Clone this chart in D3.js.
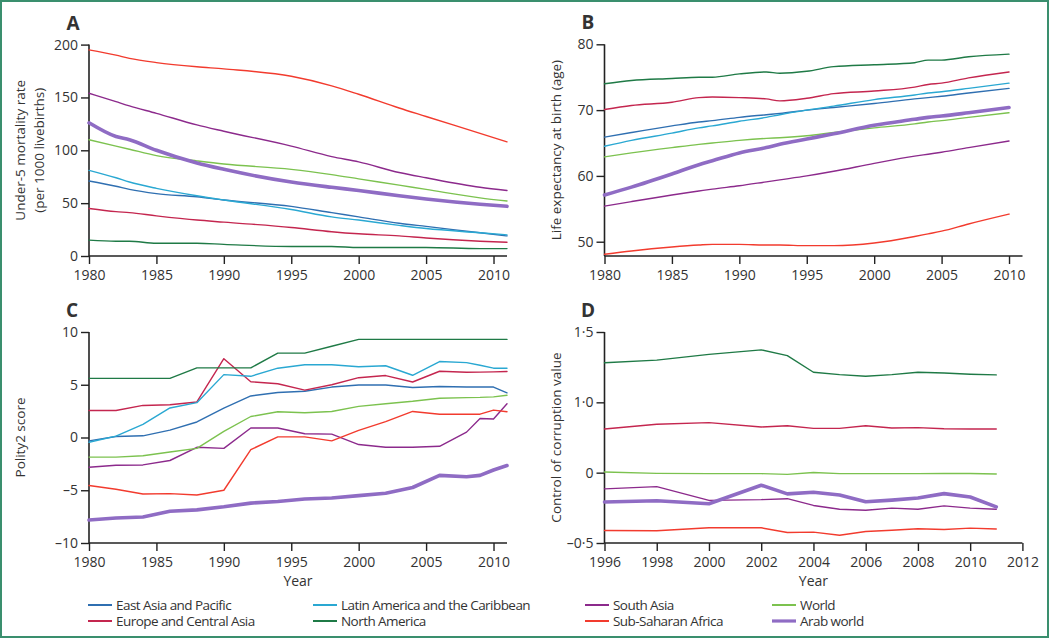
<!DOCTYPE html>
<html>
<head>
<meta charset="utf-8">
<script src="https://cdn.jsdelivr.net/npm/d3@7"></script>
<style>
  body { margin: 0; background: #fff; }
  text { font-family: "Open Sans", "Noto Sans", sans-serif; fill: #333; }
</style>
</head>
<body>
<div id="chart"></div>
<script>
// regions, in legend order (column by column)
const regions = ["East Asia and Pacific", "Europe and Central Asia",
  "Latin America and the Caribbean", "North America",
  "South Asia", "Sub-Saharan Africa", "World", "Arab world"];
const regionColors = ["#2f6fb1", "#c4264f", "#2aa8d2", "#1f7a46",
  "#8c2a8c", "#f23b2e", "#7cc24f", "#8f6cc4"];

// A: under-5 mortality
const yearsA = [1980, 1982, 1983, 1985, 1988, 1990, 1995, 1998, 2000, 2003, 2005, 2009, 2011];
const mortality = [
  [71, 66, 63, 59, 56, 53, 47, 41, 37, 31, 28, 22, 19],
  [45, 42, 41, 38, 34, 32, 27, 23, 21, 19, 17, 14, 13],
  [81, 74, 70, 64, 57, 53, 44, 37, 34, 29, 26, 22, 20],
  [15, 14, 14, 12, 12, 11, 9, 9, 8, 8, 8, 7, 7],
  [154, 146, 142, 135, 124, 118, 104, 94, 89, 79, 74, 65, 62],
  [195, 190, 187, 183, 179, 177, 170, 161, 153, 140, 132, 116, 108],
  [110, 104, 101, 95, 90, 87, 82, 77, 73, 67, 63, 55, 52],
  [126, 113, 110, 100, 88, 82, 70, 65, 62, 57, 54, 49, 47]
];

// B: life expectancy
const yearsB = [1980, 1982, 1985, 1987, 1988, 1990, 1992, 1993, 1995, 1997, 2000, 2003, 2004, 2005, 2007, 2010];
const lifeExp = [
  [65.9, 66.6, 67.6, 68.2, 68.4, 68.9, 69.3, 69.5, 70.0, 70.4, 71.0, 71.7, 71.9, 72.1, 72.6, 73.3],
  [70.1, 70.7, 71.2, 71.9, 72.0, 71.9, 71.7, 71.4, 71.8, 72.5, 72.9, 73.5, 73.9, 74.1, 74.9, 75.8],
  [64.5, 65.4, 66.5, 67.3, 67.6, 68.3, 68.9, 69.3, 70.0, 70.6, 71.6, 72.3, 72.6, 72.8, 73.3, 74.1],
  [74.0, 74.5, 74.8, 75.0, 75.0, 75.5, 75.8, 75.6, 75.9, 76.6, 76.9, 77.2, 77.6, 77.6, 78.1, 78.5],
  [55.4, 56.1, 57.1, 57.7, 58.0, 58.5, 59.1, 59.4, 60.0, 60.7, 61.9, 63.0, 63.3, 63.6, 64.3, 65.3],
  [48.1, 48.6, 49.2, 49.5, 49.6, 49.6, 49.5, 49.5, 49.4, 49.4, 49.8, 50.8, 51.2, 51.6, 52.7, 54.2],
  [62.9, 63.5, 64.3, 64.8, 65.0, 65.4, 65.7, 65.8, 66.1, 66.6, 67.3, 67.9, 68.2, 68.4, 68.9, 69.6],
  [57.1, 58.3, 60.3, 61.7, 62.3, 63.5, 64.3, 64.8, 65.6, 66.4, 67.7, 68.6, 68.9, 69.1, 69.6, 70.4]
];

// C: polity2 score
const yearsC = [1980, 1982, 1984, 1986, 1988, 1990, 1992, 1994, 1996, 1998, 2000, 2002, 2004, 2006, 2008, 2009, 2010, 2011];
const polity = [
  [-0.32, 0.1, 0.16, 0.7, 1.47, 2.79, 3.94, 4.26, 4.39, 4.78, 4.97, 4.97, 4.74, 4.84, 4.78, 4.78, 4.78, 4.23],
  [2.56, 2.56, 3.04, 3.1, 3.37, 7.47, 5.29, 5.1, 4.49, 5.0, 5.67, 5.87, 5.26, 6.28, 6.19, 6.2, 6.22, 6.25],
  [-0.45, 0.13, 1.25, 2.8, 3.3, 5.96, 5.8, 6.57, 6.9, 6.9, 6.7, 6.8, 5.9, 7.2, 7.1, 6.85, 6.57, 6.57],
  [5.6, 5.6, 5.6, 5.6, 6.6, 6.6, 6.6, 8.0, 8.0, 8.65, 9.3, 9.3, 9.3, 9.3, 9.3, 9.3, 9.3, 9.3],
  [-2.82, -2.63, -2.6, -2.18, -0.93, -1.03, 0.9, 0.9, 0.35, 0.32, -0.67, -0.93, -0.93, -0.83, 0.51, 1.8, 1.76, 3.2],
  [-4.55, -4.9, -5.35, -5.32, -5.45, -5.0, -1.15, 0.06, 0.06, -0.32, 0.67, 1.5, 2.47, 2.21, 2.21, 2.21, 2.6, 2.44],
  [-1.86, -1.86, -1.73, -1.38, -1.03, 0.58, 1.99, 2.44, 2.34, 2.47, 2.95, 3.2, 3.43, 3.72, 3.78, 3.8, 3.85, 4.0],
  [-7.82, -7.63, -7.53, -6.99, -6.86, -6.57, -6.22, -6.06, -5.83, -5.74, -5.51, -5.29, -4.74, -3.59, -3.72, -3.59, -3.08, -2.66]
];

// D: control of corruption (no East Asia / Latin America lines)
const yearsD = [1996, 1998, 2000, 2002, 2003, 2004, 2005, 2006, 2007, 2008, 2009, 2010, 2011];
const corruption = [
  null,
  [0.62, 0.688, 0.712, 0.649, 0.668, 0.63, 0.63, 0.668, 0.635, 0.64, 0.625, 0.62, 0.62],
  null,
  [1.281, 1.30, 1.341, 1.373, 1.332, 1.214, 1.197, 1.185, 1.197, 1.214, 1.209, 1.2, 1.195],
  [-0.115, -0.099, -0.197, -0.192, -0.185, -0.233, -0.26, -0.267, -0.252, -0.26, -0.236, -0.252, -0.26],
  [-0.411, -0.413, -0.392, -0.392, -0.425, -0.423, -0.445, -0.418, -0.409, -0.399, -0.404, -0.394, -0.401],
  [0.01, -0.005, -0.007, -0.007, -0.012, 0.002, -0.007, -0.007, -0.007, -0.007, -0.006, -0.006, -0.009],
  [-0.209, -0.2, -0.221, -0.089, -0.151, -0.139, -0.159, -0.207, -0.195, -0.18, -0.149, -0.173, -0.243]
];
const corruptionTicks = [-0.5, 0, 1.0, 1.5];

const width = 1050, height = 639;

const svg = d3.select("#chart").append("svg")
  .attr("width", width).attr("height", height);

svg.append("rect")
  .attr("x", 1).attr("y", 1).attr("width", width - 3).attr("height", height - 3)
  .attr("fill", "none").attr("stroke", "#3a8f6e").attr("stroke-width", 2);

const fmtDot = d => d === 0 ? "0" : d3.format(".1f")(d).replace(".", "·").replace("−", "–");
const fmtMinus = d => String(d).replace("-", "–");

function panel(p) {
  const x = d3.scaleLinear().domain(p.xDomain).range([p.left, p.right]);
  const y = d3.scaleLinear().domain(p.yDomain).range(p.yRange);

  const xAxis = d3.axisBottom(x).tickValues(p.xTicks).tickSize(8).tickPadding(6)
    .tickFormat(d3.format("d"));
  const yAxis = d3.axisLeft(y).tickValues(p.yTicks).tickSize(8).tickPadding(3)
    .tickFormat(p.yFormat);

  const gx = svg.append("g").attr("transform", `translate(0,${p.bottom})`).call(xAxis);
  const gy = svg.append("g").attr("transform", `translate(${p.left},0)`).call(yAxis);
  [gx, gy].forEach(g => {
    g.select(".domain").attr("stroke", "#222").attr("stroke-width", 1.6);
    g.selectAll(".tick line").attr("stroke", "#222").attr("stroke-width", 1.4);
    g.selectAll(".tick text").style("font-size", "14px").attr("fill", "#333");
  });
  gx.select(".domain").attr("d", `M${p.left},0H${p.right}`);
  gy.select(".domain").attr("d", `M0,${p.bottom}V${p.top}`);

  const line = d3.line()
    .x((d, i) => x(p.years[i]))
    .y(d => y(d))
    .curve(p.curve);

  p.values.forEach((vals, i) => {
    if (!vals) return;
    svg.append("path")
      .datum(vals)
      .attr("d", line)
      .attr("fill", "none")
      .attr("stroke", regionColors[i])
      .attr("stroke-width", i === 7 ? 3.6 : 1.4)
      .attr("stroke-linejoin", "round")
      .attr("stroke-linecap", "round");
  });

  svg.append("text")
    .attr("x", p.letterX).attr("y", p.top - 15)
    .style("font-size", "19px").style("font-weight", "bold").attr("fill", "#222")
    .attr("text-anchor", "middle")
    .text(p.letter);

  p.yLabel.forEach((t, k) => {
    svg.append("text")
      .attr("transform", `translate(${p.yLabelX + k * 19},${(p.top + p.bottom) / 2}) rotate(-90)`)
      .attr("text-anchor", "middle")
      .attr("dy", "0.35em")
      .style("font-size", "13.5px")
      .text(t);
  });

  if (p.xLabel) {
    svg.append("text")
      .attr("x", (p.left + p.right) / 2).attr("y", p.bottom + 43)
      .attr("text-anchor", "middle")
      .style("font-size", "14px")
      .text(p.xLabel);
  }
}

panel({
  letter: "A", letterX: 73,
  left: 89, right: 507, top: 44.6, bottom: 256,
  xDomain: [1980, 2011], xTicks: d3.range(1980, 2011, 5),
  yDomain: [0, 200], yRange: [256, 44.6], yTicks: [0, 50, 100, 150, 200],
  yFormat: d3.format("d"),
  years: yearsA, values: mortality, curve: d3.curveMonotoneX,
  yLabel: ["Under-5 mortality rate", "(per 1000 livebirths)"], yLabelX: 20
});

panel({
  letter: "B", letterX: 588,
  left: 604.5, right: 1022.5, top: 44.3, bottom: 256,
  xDomain: [1980, 2011], xTicks: d3.range(1980, 2011, 5),
  yDomain: [47.83, 80], yRange: [256, 44.3], yTicks: [50, 60, 70, 80],
  yFormat: d3.format("d"),
  years: yearsB, values: lifeExp, curve: d3.curveMonotoneX,
  yLabel: ["Life expectancy at birth (age)"], yLabelX: 556
});

panel({
  letter: "C", letterX: 72,
  left: 89, right: 507, top: 332, bottom: 543,
  xDomain: [1980, 2011], xTicks: d3.range(1980, 2011, 5),
  yDomain: [-10, 10], yRange: [543, 332], yTicks: [-10, -5, 0, 5, 10],
  yFormat: fmtMinus,
  years: yearsC, values: polity, curve: d3.curveLinear,
  yLabel: ["Polity2 score"], yLabelX: 20,
  xLabel: "Year"
});

// D: ticks are evenly spaced in the original, so a piecewise scale is used
const dTop = 332, dBottom = 543, dStep = (dBottom - dTop) / 3;
panel({
  letter: "D", letterX: 588,
  left: 604.5, right: 1022.4, top: dTop, bottom: dBottom,
  xDomain: [1996, 2012], xTicks: d3.range(1996, 2013, 2),
  yDomain: corruptionTicks, yRange: [dBottom, dBottom - dStep, dBottom - 2 * dStep, dTop],
  yTicks: corruptionTicks,
  yFormat: fmtDot,
  years: yearsD, values: corruption, curve: d3.curveLinear,
  yLabel: ["Control of corruption value"], yLabelX: 556,
  xLabel: "Year"
});

// legend
const legendX = [88, 313, 585, 772];
const legendY = [605, 621];
const legend = svg.append("g").attr("class", "legend");
regions.forEach((name, i) => {
  const lx = legendX[Math.floor(i / 2)], ly = legendY[i % 2];
  legend.append("line")
    .attr("x1", lx).attr("x2", lx + 24).attr("y1", ly).attr("y2", ly)
    .attr("stroke", regionColors[i]).attr("stroke-width", i === 7 ? 3.2 : 2);
  legend.append("text")
    .attr("x", lx + 28).attr("y", ly).attr("dy", "0.35em")
    .style("font-size", "13.5px")
    .style("letter-spacing", "-0.55px")
    .text(name);
});
</script>
</body>
</html>
